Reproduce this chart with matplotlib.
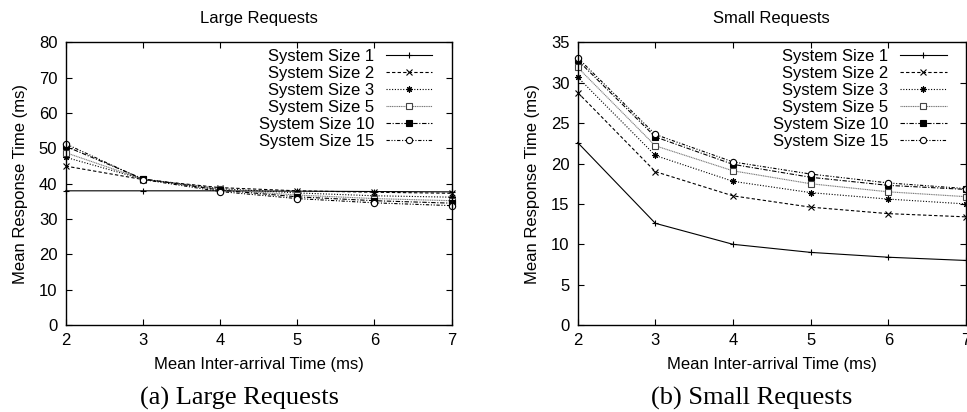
import matplotlib
matplotlib.use("Agg")
import matplotlib.pyplot as plt

plt.rcParams["font.family"] = ["Liberation Sans", "DejaVu Sans"]

# inter-arrival times (x)
arrival = [2, 3, 4, 5, 6, 7]

labels = ["System Size 1", "System Size 2", "System Size 3",
          "System Size 5", "System Size 10", "System Size 15"]

# large requests, mean response time (ms)
large_1 = [38.0, 38.0, 38.0, 37.9, 37.8, 37.7]
large_2 = [45.0, 41.2, 38.9, 38.0, 37.6, 37.3]
large_3 = [47.5, 41.3, 38.6, 37.4, 36.6, 36.2]
large_5 = [48.8, 41.3, 38.4, 36.8, 35.8, 35.2]
large_10 = [50.6, 41.4, 38.2, 36.3, 35.2, 34.5]
large_15 = [51.3, 41.2, 37.8, 35.8, 34.6, 33.8]

# small requests, mean response time (ms)
small_1 = [22.6, 12.6, 10.0, 9.0, 8.4, 8.0]
small_2 = [28.8, 19.0, 16.0, 14.6, 13.8, 13.4]
small_3 = [30.7, 21.0, 17.8, 16.4, 15.6, 15.0]
small_5 = [31.9, 22.2, 19.1, 17.5, 16.5, 15.9]
small_10 = [32.8, 23.3, 19.9, 18.3, 17.3, 16.8]
small_15 = [33.1, 23.6, 20.2, 18.7, 17.6, 16.9]

large = [large_1, large_2, large_3, large_5, large_10, large_15]
small = [small_1, small_2, small_3, small_5, small_10, small_15]

# gnuplot-like monochrome styles
styles = [
    dict(color="black", linestyle="-", marker="+", mfc="black"),
    dict(color="black", linestyle=(0, (3, 2)), marker="x", mfc="black"),
    dict(color="black", linestyle=(0, (1, 1.5)), marker=(8, 2, 0), mfc="black"),
    dict(color="#777777", linestyle=(0, (1, 0.6)), marker="s", mfc="white", mec="#444444"),
    dict(color="black", linestyle=(0, (4, 1.5, 1, 1.5)), marker="s", mfc="black"),
    dict(color="black", linestyle=(0, (3, 1.5, 1, 1.5, 1, 1.5)), marker="o", mfc="white"),
]

fig = plt.figure(figsize=(9.67, 4.12), dpi=100)
ax1 = fig.add_axes([0.0679, 0.211, 0.3992, 0.686])
ax2 = fig.add_axes([0.5974, 0.211, 0.4016, 0.686])

def draw(ax, series, title, ymax, ystep):
    for vals, lab, st in zip(series, labels, styles):
        ax.plot(arrival, vals, label=lab, linewidth=0.8, markersize=4.5,
                markeredgewidth=0.8, clip_on=False, **st)
    ax.set_xlim(2, 7)
    ax.set_ylim(0, ymax)
    ax.set_xticks(arrival)
    ax.set_yticks(range(0, ymax + 1, ystep))
    ax.tick_params(direction="in", length=4, width=0.8, top=True, right=True,
                   labelsize=12, pad=6)
    for sp in ax.spines.values():
        sp.set_linewidth(1.0)
    ax.set_title(title, fontsize=12, pad=14)
    ax.set_xlabel("Mean Inter-arrival Time (ms)", fontsize=12, labelpad=6)
    ax.set_ylabel("Mean Response Time (ms)", fontsize=12, labelpad=8)
    ax.legend(loc="upper right", bbox_to_anchor=(0.95, 0.978), frameon=False,
              markerfirst=False, fontsize=12, handlelength=2.8,
              handletextpad=0.7, labelspacing=0.12, borderpad=0,
              borderaxespad=0)

draw(ax1, large, "Large Requests", 80, 10)
draw(ax2, small, "Small Requests", 35, 5)

fig.text(240 / 967, 0.033, "(a) Large Requests", ha="center", va="center",
         fontsize=19, family=["Liberation Serif", "DejaVu Serif"])
fig.text(752 / 967, 0.033, "(b) Small Requests", ha="center", va="center",
         fontsize=19, family=["Liberation Serif", "DejaVu Serif"])

fig.savefig("out.png", dpi=100)
